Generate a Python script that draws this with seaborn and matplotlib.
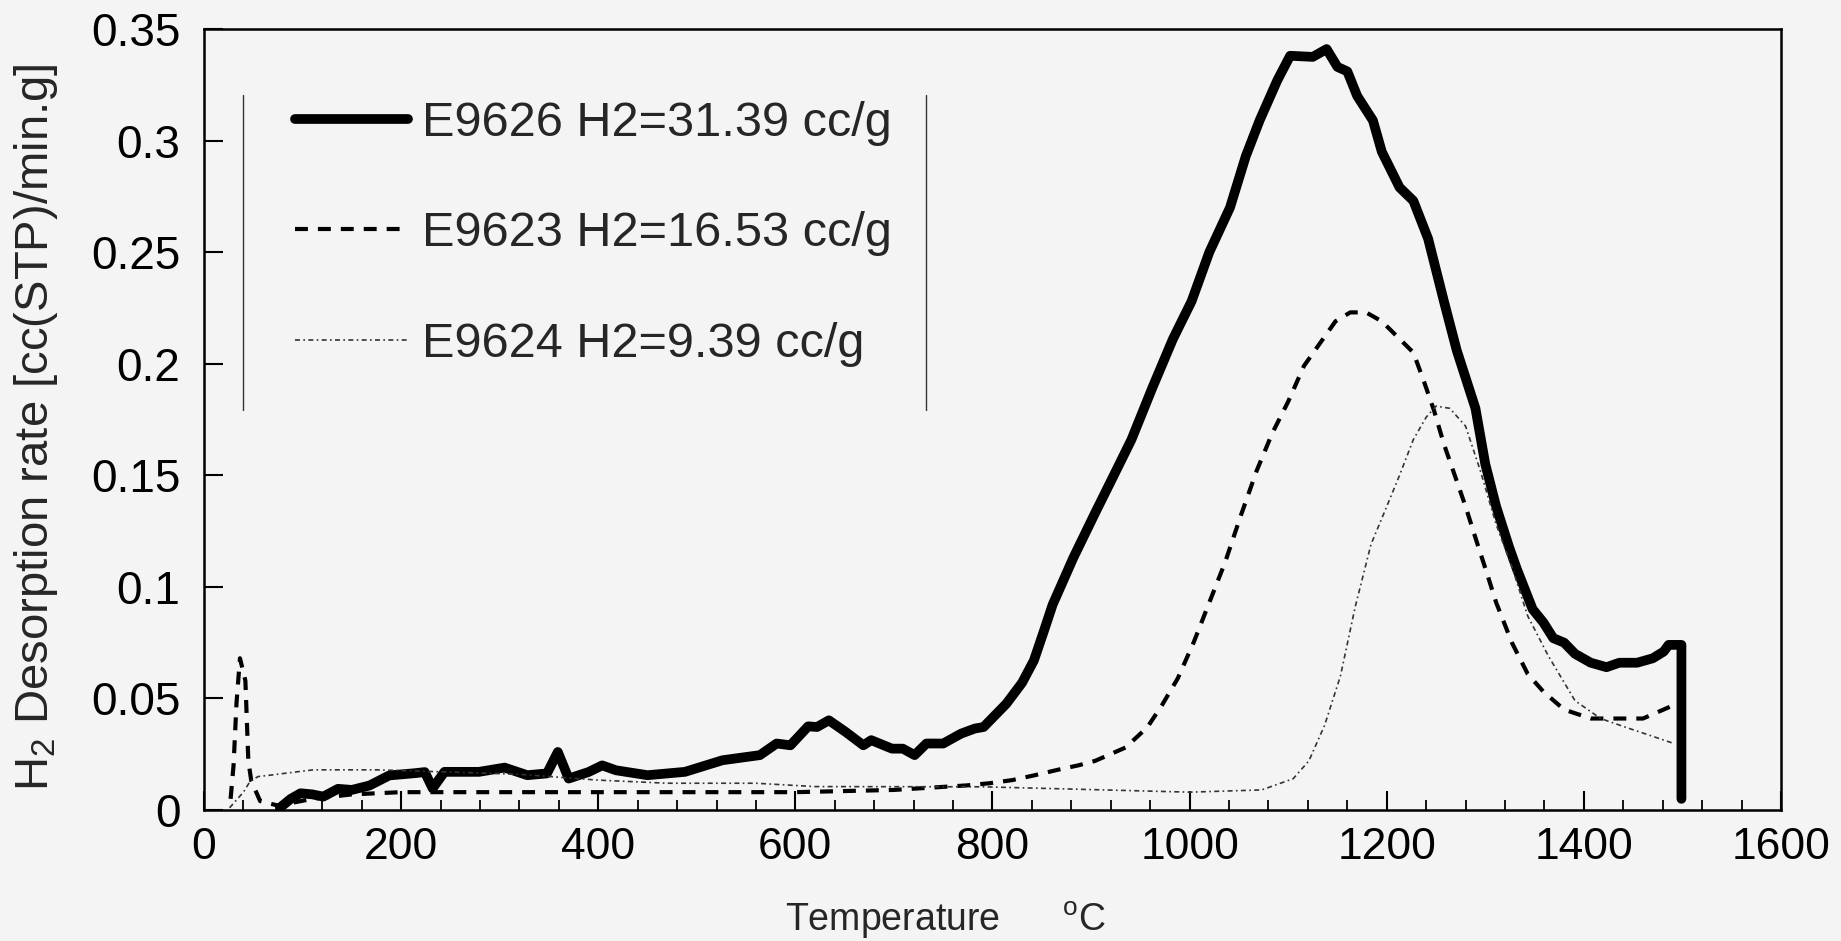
import numpy as np
import pandas as pd
import seaborn as sns
import matplotlib.pyplot as plt
from matplotlib.ticker import MultipleLocator, FuncFormatter

# E9626 (solid)
t_9626 = [77, 88, 98, 110, 121, 136, 150, 168, 188, 214, 224, 232, 244, 279, 305, 328, 348, 359, 370, 390,
          404, 418, 450, 488, 526, 564, 581, 595, 613, 622, 634, 651, 669, 677, 698, 709, 721, 733, 750, 768,
          782, 791, 814, 830, 842, 852, 861, 882, 904, 922, 941, 962, 983, 1002, 1020, 1041, 1057, 1071, 1089, 1102,
          1125, 1139, 1150, 1160, 1170, 1186, 1195, 1213, 1227, 1242, 1258, 1271, 1290, 1300, 1311, 1324, 1332, 1348, 1359, 1369,
          1380, 1391, 1407, 1423, 1436, 1454, 1470, 1481, 1486, 1499, 1499]
r_9626 = [0.001, 0.005, 0.0075, 0.007, 0.006, 0.0095, 0.009, 0.011, 0.0155, 0.0165, 0.017, 0.0097, 0.0171, 0.0171, 0.019, 0.0156, 0.0164, 0.026, 0.0141, 0.017,
          0.020, 0.0178, 0.0156, 0.0171, 0.0223, 0.0246, 0.0298, 0.029, 0.0375, 0.0372, 0.0402, 0.035, 0.029, 0.0313, 0.0275, 0.0275, 0.0246, 0.0298, 0.0298, 0.0342,
          0.0365, 0.0372, 0.0476, 0.057, 0.067, 0.080, 0.092, 0.113, 0.133, 0.149, 0.166, 0.189, 0.211, 0.228, 0.250, 0.270, 0.293, 0.309, 0.327, 0.338,
          0.3375, 0.341, 0.333, 0.331, 0.320, 0.309, 0.295, 0.279, 0.273, 0.256, 0.228, 0.206, 0.180, 0.155, 0.136, 0.118, 0.108, 0.090, 0.084, 0.077,
          0.075, 0.070, 0.066, 0.064, 0.066, 0.066, 0.068, 0.071, 0.074, 0.074, 0.005]

# E9623 (dashed)
t_9623 = [27, 30, 33, 36.5, 42, 45, 48, 57, 75, 110, 150, 200, 300, 400, 500, 600, 700, 773, 797, 820,
          843, 866, 887, 904, 935, 957, 972, 988, 1004, 1020, 1036, 1052, 1068, 1084, 1100, 1116, 1132, 1148, 1163, 1179,
          1195, 1211, 1227, 1237, 1248, 1258, 1269, 1280, 1290, 1301, 1311, 1327, 1343, 1359, 1380, 1407, 1433, 1460, 1486, 1495]
r_9623 = [0.005, 0.02, 0.048, 0.068, 0.058, 0.022, 0.013, 0.004, 0.002, 0.005, 0.007, 0.008, 0.008, 0.008, 0.008, 0.008, 0.009, 0.011, 0.012, 0.0134,
          0.0156, 0.018, 0.020, 0.022, 0.028, 0.037, 0.047, 0.059, 0.075, 0.093, 0.111, 0.132, 0.152, 0.169, 0.183, 0.199, 0.209, 0.219, 0.223, 0.223,
          0.219, 0.212, 0.205, 0.193, 0.179, 0.164, 0.150, 0.136, 0.122, 0.107, 0.093, 0.075, 0.061, 0.053, 0.045, 0.041, 0.041, 0.041, 0.046, 0.048]

# E9624 (dotted)
t_9624 = [26, 40, 47, 55, 67, 92, 111, 175, 250, 320, 400, 470, 560, 620, 790, 870, 1000, 1073, 1105, 1121,
          1137, 1153, 1168, 1184, 1200, 1213, 1227, 1240, 1250, 1264, 1280, 1295, 1311, 1327, 1343, 1364, 1391, 1417, 1443, 1470, 1490]
r_9624 = [0.001, 0.008, 0.013, 0.015, 0.0156, 0.017, 0.018, 0.018, 0.017, 0.016, 0.0134, 0.012, 0.012, 0.0105, 0.0104, 0.0095, 0.008, 0.009, 0.014, 0.022,
          0.038, 0.060, 0.091, 0.119, 0.136, 0.150, 0.166, 0.176, 0.181, 0.180, 0.172, 0.152, 0.128, 0.109, 0.087, 0.069, 0.049, 0.041, 0.037, 0.033, 0.030]

labels = ['E9626 H2=31.39 cc/g', 'E9623 H2=16.53 cc/g', 'E9624 H2=9.39 cc/g']
x_ticks = np.arange(0, 1601, 200)
y_ticks = np.arange(0, 0.351, 0.05)

sns.set_style('ticks')
plt.rcParams['font.family'] = ['Liberation Sans', 'DejaVu Sans']
plt.rcParams['mathtext.fontset'] = 'custom'
plt.rcParams['mathtext.rm'] = 'Liberation Sans'
plt.rcParams['mathtext.it'] = 'Liberation Sans:italic'

bg = '#f4f4f4'
fig = plt.figure(figsize=(18.41, 9.41), dpi=100, facecolor=bg)
ax = fig.add_axes([0.1108, 0.1392, 0.8566, 0.83])
ax.set_facecolor(bg)

sns.lineplot(x=t_9626, y=r_9626, ax=ax, color='black', lw=7, label=labels[0],
             estimator=None, sort=False, solid_joinstyle='round')
sns.lineplot(x=t_9623, y=r_9623, ax=ax, color='black', lw=3, linestyle=(0, (3.1, 2.4)),
             label=labels[1], estimator=None, sort=False)
sns.lineplot(x=t_9624, y=r_9624, ax=ax, color='#333333', lw=1.2, linestyle=(0, (3, 2, 1, 2)),
             label=labels[2], estimator=None, sort=False)

ax.set_xlim(0, 1600)
ax.set_ylim(0, 0.35)
ax.set_xticks(x_ticks)
ax.set_yticks(y_ticks)
ax.xaxis.set_minor_locator(MultipleLocator(40))
ax.yaxis.set_major_formatter(FuncFormatter(lambda v, p: '%g' % round(v, 2)))
ax.tick_params(which='major', direction='in', length=14, width=1.5,
               color='black', labelcolor='black')
ax.tick_params(axis='x', which='major', labelsize=32, pad=12)
ax.tick_params(axis='y', which='major', labelsize=33, pad=17)
ax.tick_params(which='minor', direction='in', length=7, width=1.3, color='black')
ax.tick_params(axis='y', which='minor', length=0)
for s in ax.spines.values():
    s.set_linewidth(1.8)
    s.set_color('black')

ax.set_xlabel('Temperature      $^{\\mathrm{o}}$C', fontsize=27)
ax.xaxis.set_label_coords(0.47, -0.115)
ax.set_ylabel('H$_2$ Desorption rate [cc(STP)/min.g]', fontsize=34)
ax.yaxis.set_label_coords(-0.0913, 0.49)

ax.legend(loc='upper left', bbox_to_anchor=(0.0577, 0.908), frameon=False, fontsize=35,
          handlelength=2.33, handletextpad=0.29, labelspacing=1.35, borderpad=0, borderaxespad=0)
# side rules of the scanned legend box
ax.plot([0.0247, 0.0247], [0.512, 0.915], transform=ax.transAxes, color='#333333', lw=1)
ax.plot([0.458, 0.458], [0.512, 0.915], transform=ax.transAxes, color='#333333', lw=1)

fig.savefig('out.png', dpi=100, facecolor=bg)
